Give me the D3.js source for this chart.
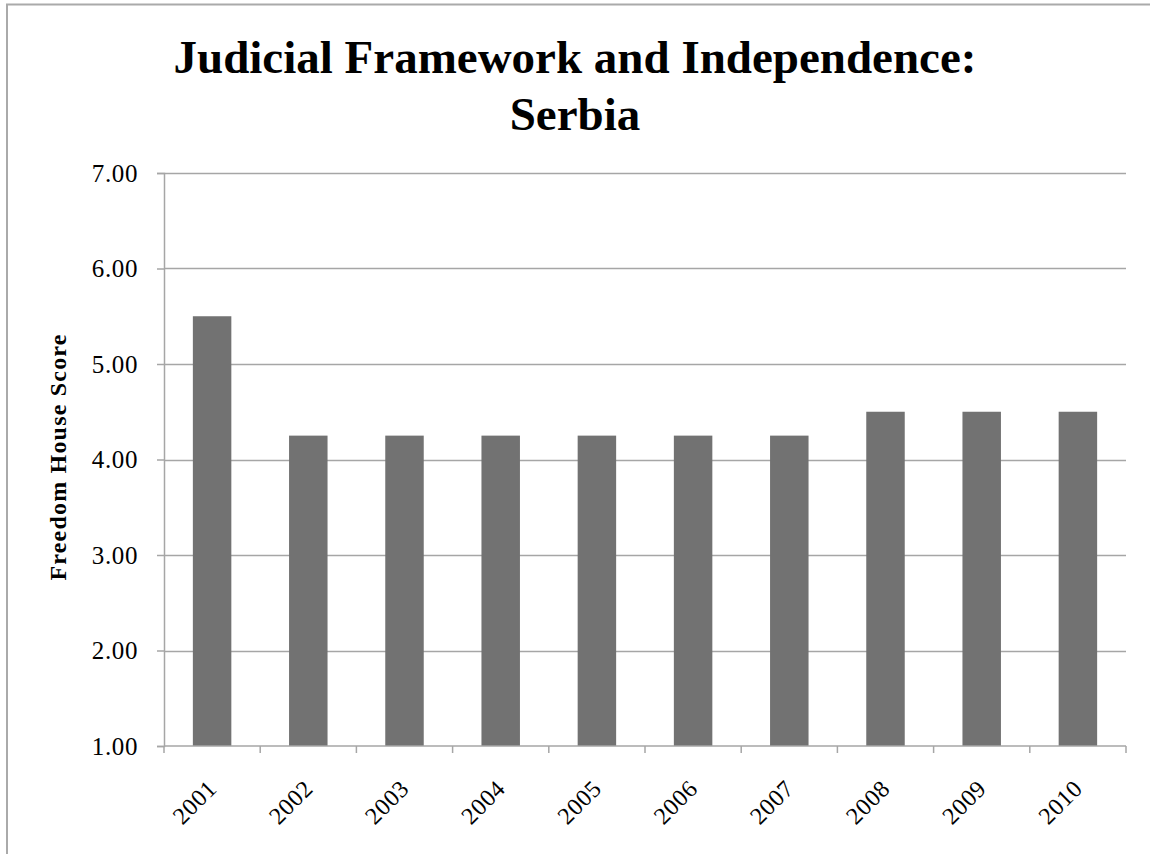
<!DOCTYPE html>
<html>
<head>
<meta charset="utf-8">
<script src="https://cdn.jsdelivr.net/npm/d3@7"></script>
<style>
body { margin: 0; background: #fff; }
text { font-family: "Liberation Serif", "Times New Roman", serif; }
</style>
</head>
<body>
<div id="chart"></div>
<script>
// data
var years = ["2001", "2002", "2003", "2004", "2005", "2006", "2007", "2008", "2009", "2010"];
var scores = [5.5, 4.25, 4.25, 4.25, 4.25, 4.25, 4.25, 4.5, 4.5, 4.5];
var yTicks = [1, 2, 3, 4, 5, 6, 7];

var W = 1150, H = 854;
var margin = {left: 164, right: 24, top: 173, bottom: 108},
    width = W - margin.left - margin.right,
    height = H - margin.top - margin.bottom;

var svg = d3.select("#chart").append("svg")
    .attr("width", W)
    .attr("height", H);

// outer frame (right and bottom edges fall outside the picture)
svg.append("rect")
    .attr("x", 7).attr("y", 4.5)
    .attr("width", W + 20).attr("height", H + 20)
    .attr("fill", "none")
    .attr("stroke", "#aaa")
    .attr("stroke-width", 2);

// title
var title = svg.append("text")
    .attr("text-anchor", "middle")
    .attr("font-weight", "bold")
    .attr("font-size", "47px");
title.append("tspan").attr("x", 575).attr("y", 73).text("Judicial Framework and Independence:");
title.append("tspan").attr("x", 575).attr("y", 130).text("Serbia");

var g = svg.append("g")
    .attr("transform", "translate(" + margin.left + "," + margin.top + ")");

var x = d3.scaleBand().domain(years).range([0, width]).paddingInner(0.6).paddingOuter(0.3);
var y = d3.scaleLinear().domain([1, 7]).range([height, 0]);

// gridlines
g.selectAll(".grid")
    .data(yTicks.slice(1))
    .enter().append("line")
    .attr("x1", 0).attr("x2", width)
    .attr("y1", function (d) { return Math.round(y(d)) + 0.5; })
    .attr("y2", function (d) { return Math.round(y(d)) + 0.5; })
    .attr("stroke", "#a6a6a6")
    .attr("stroke-width", 1.5);

// bars
g.selectAll(".bar")
    .data(scores)
    .enter().append("rect")
    .attr("x", function (d, i) { return x(years[i]); })
    .attr("width", x.bandwidth())
    .attr("y", function (d) { return y(d); })
    .attr("height", function (d) { return y(1) - y(d); })
    .attr("fill", "#727272");

// y axis
var yAxis = g.append("g")
    .call(d3.axisLeft(y).tickValues(yTicks).tickSize(7).tickPadding(19)
        .tickFormat(d3.format(".2f")));
yAxis.select(".domain").attr("stroke", "#a6a6a6").attr("stroke-width", 1.5);
yAxis.selectAll(".tick line").attr("stroke", "#a6a6a6").attr("stroke-width", 1.5);
yAxis.selectAll("text")
    .attr("font-family", "Liberation Serif, serif")
    .attr("font-size", "25px")
    .attr("letter-spacing", "0.6px")
    .attr("fill", "#000");

// x axis: ticks at category boundaries
var xAxis = g.append("g")
    .attr("transform", "translate(0," + height + ")");
xAxis.append("line")
    .attr("x1", 0).attr("x2", width)
    .attr("y1", 0).attr("y2", 0)
    .attr("stroke", "#a6a6a6").attr("stroke-width", 1.5);
var step = x.step();
xAxis.selectAll(".xtick")
    .data(d3.range(years.length + 1))
    .enter().append("line")
    .attr("x1", function (i) { return x(years[0]) - x.paddingOuter() * step + i * step; })
    .attr("x2", function (i) { return x(years[0]) - x.paddingOuter() * step + i * step; })
    .attr("y1", 0).attr("y2", 7)
    .attr("stroke", "#a6a6a6").attr("stroke-width", 1.5);

xAxis.selectAll(".xlabel")
    .data(years)
    .enter().append("text")
    .attr("transform", function (d) {
        var cx = x(d) + x.bandwidth() / 2 + 6;
        return "translate(" + cx + ",44) rotate(-45)";
    })
    .attr("text-anchor", "end")
    .attr("font-size", "24px")
    .attr("letter-spacing", "0.6px")
    .attr("fill", "#000")
    .text(function (d) { return d; });

// y axis label
svg.append("text")
    .attr("transform", "translate(66,457) rotate(-90)")
    .attr("text-anchor", "middle")
    .attr("font-weight", "bold")
    .attr("font-size", "24px")
    .attr("letter-spacing", "1.2px")
    .text("Freedom House Score");
</script>
</body>
</html>
